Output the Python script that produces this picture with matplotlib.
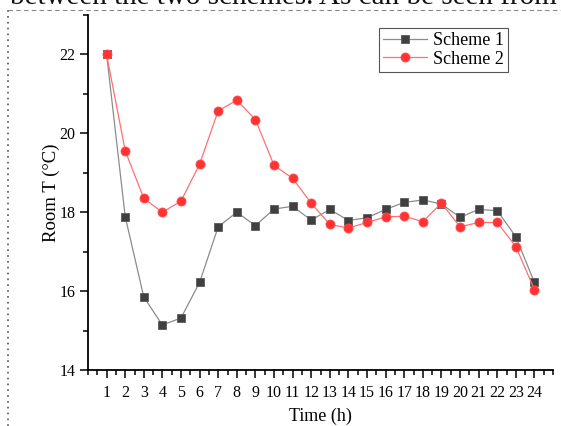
import matplotlib
matplotlib.use("Agg")
import matplotlib.pyplot as plt
from matplotlib.lines import Line2D
from matplotlib.ticker import MultipleLocator

# hours of the day
hours = list(range(1, 25))

# room temperature (deg C) per hour
scheme1 = [22.0, 17.89, 15.85, 15.14, 15.32, 16.22, 17.63, 18.00, 17.66, 18.08,
           18.15, 17.80, 18.07, 17.79, 17.86, 18.07, 18.25, 18.31, 18.21, 17.87,
           18.07, 18.04, 17.38, 16.22]
scheme2 = [22.0, 19.56, 18.35, 18.00, 18.28, 19.22, 20.57, 20.84, 20.35, 19.19,
           18.86, 18.23, 17.69, 17.60, 17.74, 17.88, 17.90, 17.76, 18.23, 17.63,
           17.74, 17.74, 17.13, 16.04]

series_labels = ["Scheme 1", "Scheme 2"]
page_text = "between the two schemes. As can be seen from"

plt.rcParams["font.family"] = ["Liberation Serif", "DejaVu Serif"]

W, H = 561, 426
fig = plt.figure(figsize=(W / 100, H / 100), dpi=100)
ax = fig.add_axes([88 / W, 1 - 370 / H, (553 - 88) / W, (370 - 15) / H])

# page decorations around the figure (cut-off paragraph line, frame lines)
fig.text(10 / W, 1 - 4 / H, page_text, fontsize=21, ha="left", va="baseline",
         color="#111111")
fig.add_artist(Line2D([8 / W, 1], [1 - 10 / H, 1 - 10 / H], transform=fig.transFigure,
                      color="#888888", lw=0.8, ls=(0, (4, 3))))
fig.add_artist(Line2D([8 / W, 8 / W], [0, 1 - 10 / H], transform=fig.transFigure,
                      color="#555555", lw=1.2, ls=(0, (1, 2.5))))

ax.plot(hours, scheme1, color="#8c8c8c", lw=0.9, marker="s", ms=6,
        mfc="#404040", mec="#5a5a5a", mew=0.6, label=series_labels[0], zorder=3)
ax.plot(hours, scheme2, color="#ff7070", lw=0.9, marker="o", ms=6.5,
        mfc="#ff3333", mec="#ff4d4d", mew=0.6, label=series_labels[1], zorder=3)

ax.set_xlim(0, 25)
ax.set_ylim(14, 23)
ax.xaxis.set_minor_locator(MultipleLocator(0.5))
ax.yaxis.set_minor_locator(MultipleLocator(1))
ax.set_xticks(hours)
ax.set_yticks([14, 16, 18, 20, 22])

for side in ("top", "right"):
    ax.spines[side].set_visible(False)
for side in ("left", "bottom"):
    ax.spines[side].set_linewidth(1.3)

ax.tick_params(which="major", direction="out", length=5.5, width=1.1, labelsize=11.5)
ax.tick_params(which="minor", direction="out", length=3.5, width=1.1)
ax.tick_params(axis="x", pad=5)

ax.set_xlabel("Time (h)", fontsize=13, labelpad=5)
ax.set_ylabel("Room T (°C)", fontsize=13.5, labelpad=-0.5)

leg = ax.legend(loc="upper right", bbox_to_anchor=(508 / W, 1 - 28 / H),
                bbox_transform=fig.transFigure, borderaxespad=0, fontsize=13,
                fancybox=False, edgecolor="#555555", framealpha=1,
                handlelength=2.4, handletextpad=0.35, borderpad=0.22,
                labelspacing=0.1)
leg.get_frame().set_linewidth(0.8)

fig.savefig("out.png", dpi=100)
